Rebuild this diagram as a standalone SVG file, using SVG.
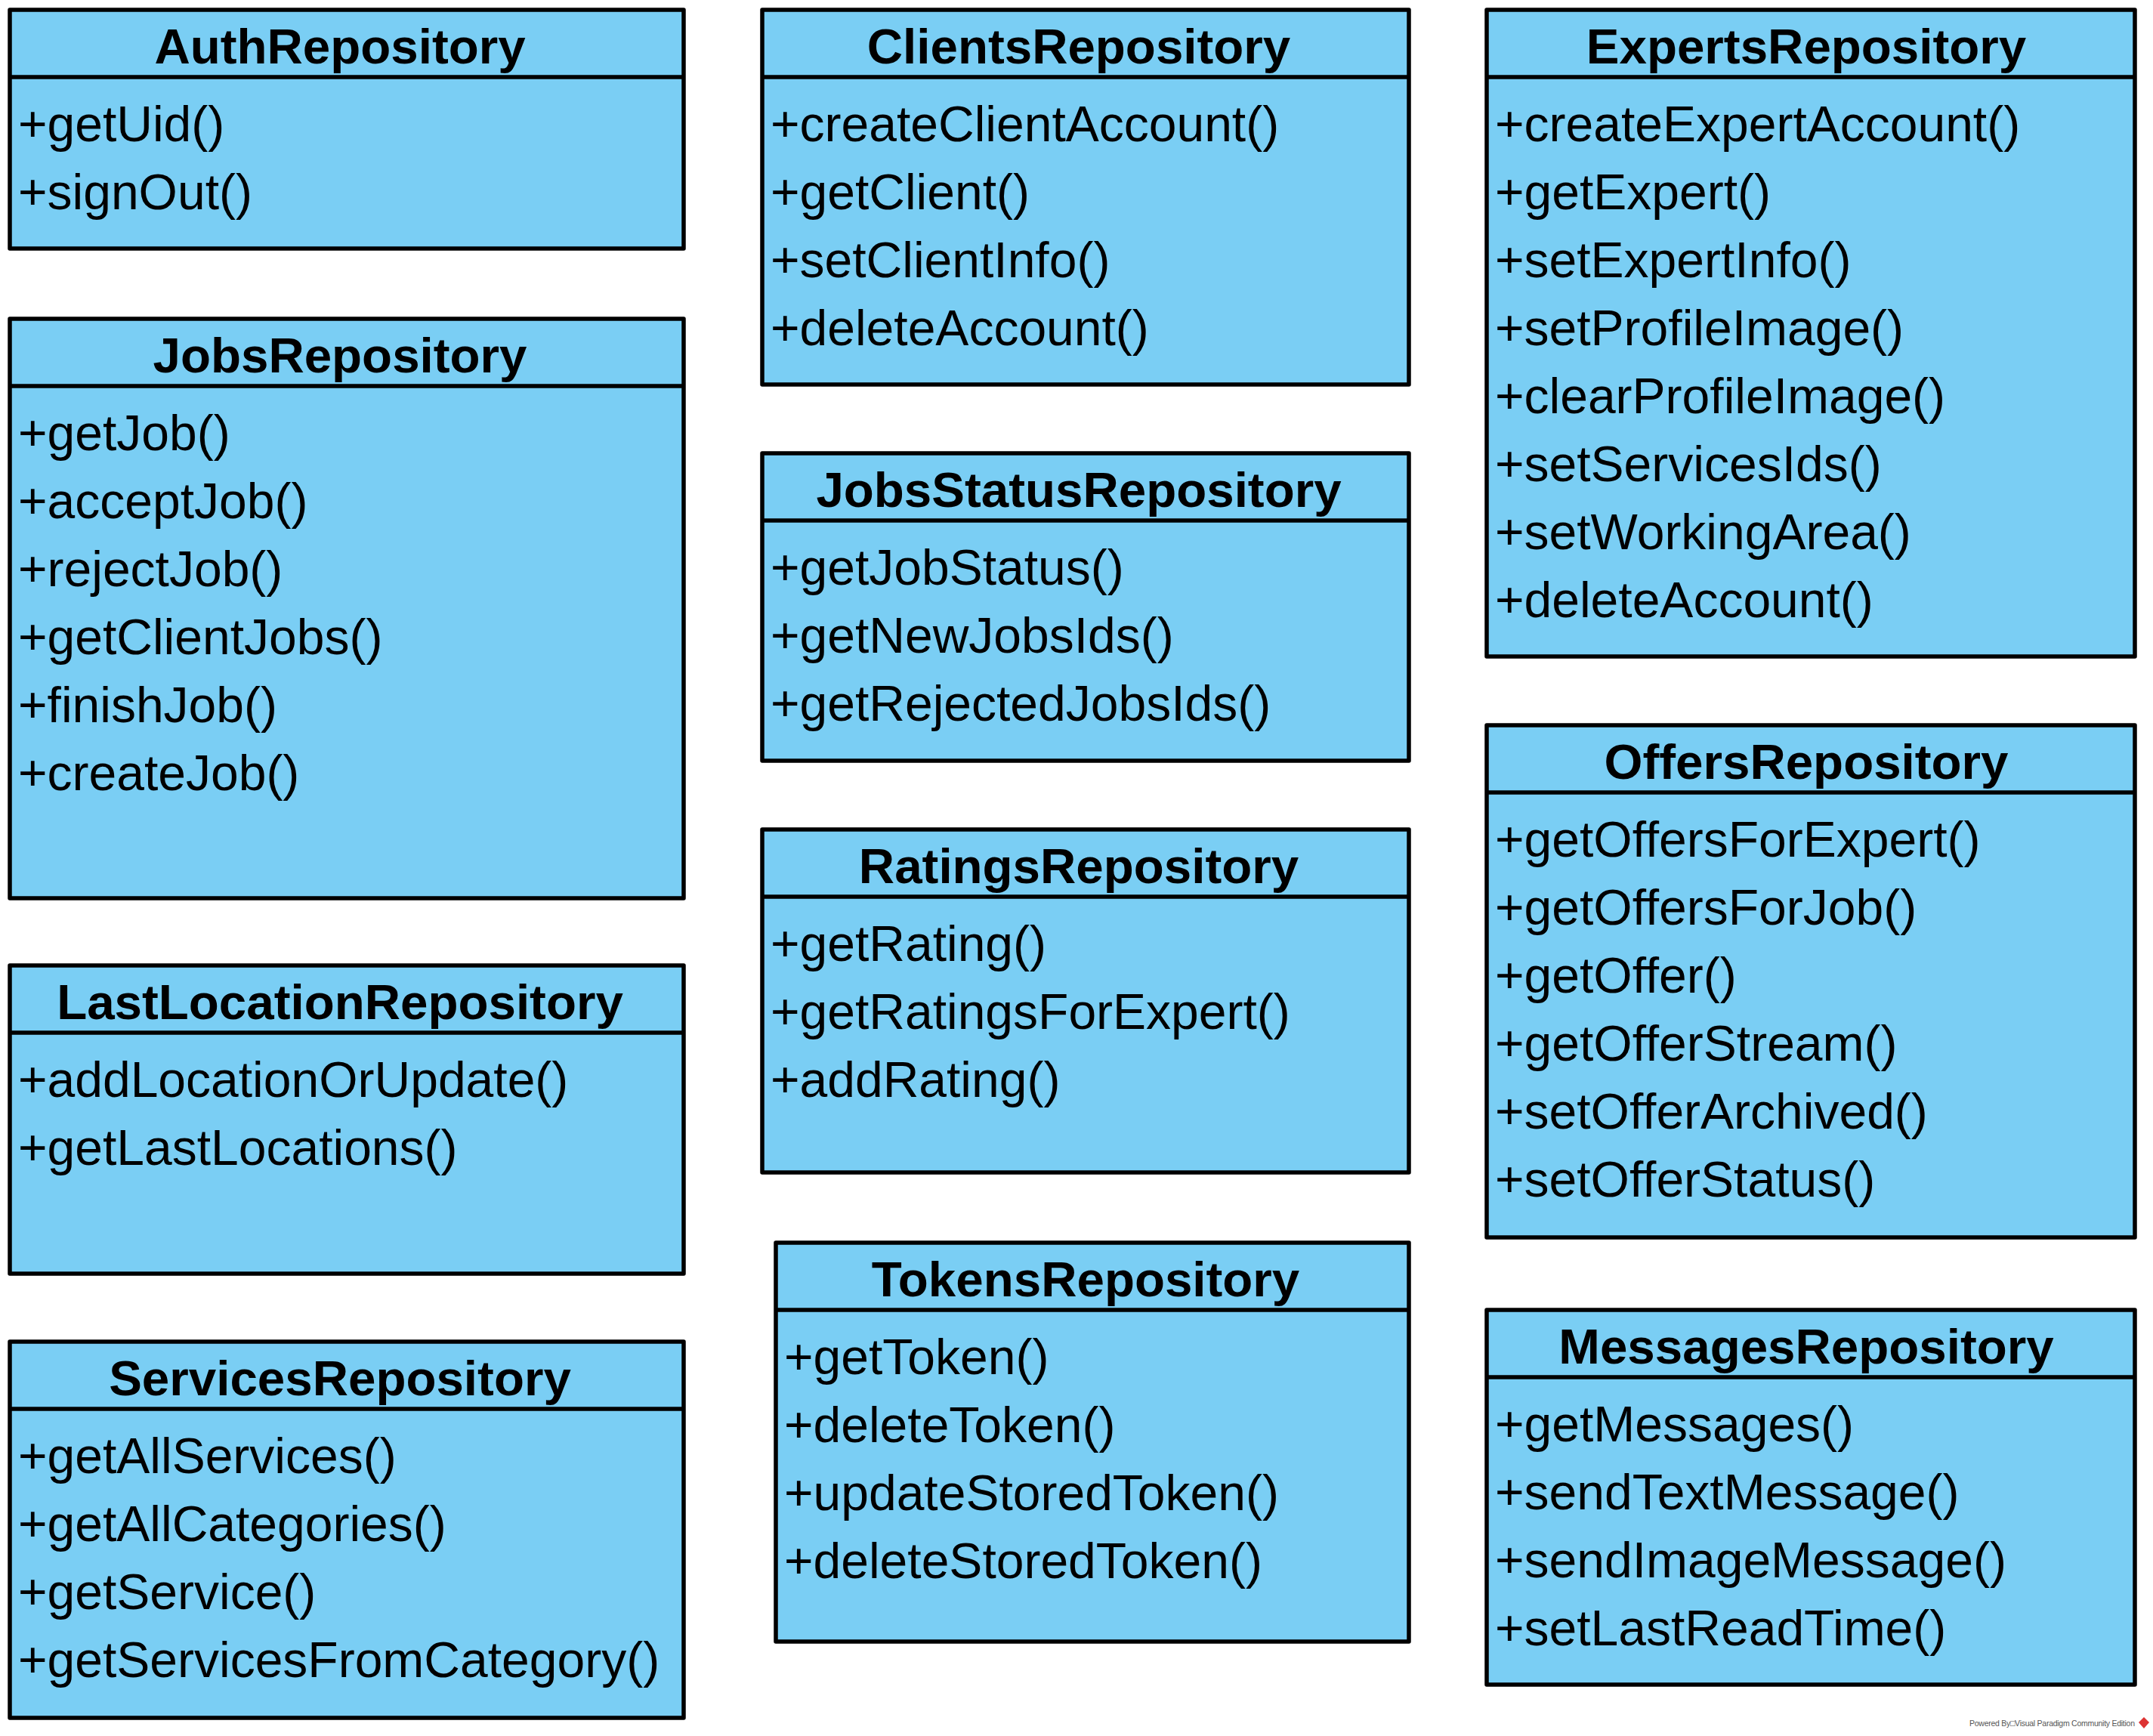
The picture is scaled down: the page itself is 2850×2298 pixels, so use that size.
<svg xmlns="http://www.w3.org/2000/svg" width="2850" height="2298" viewBox="0 0 2850 2298">
<style>
.box{fill:#7ACEF4;stroke:#000;stroke-width:5.5;stroke-linejoin:round}
.sep{stroke:#000;stroke-width:5.5}
.title{font-family:"Liberation Sans",Arial,sans-serif;font-weight:bold;font-size:65.5px;fill:#000;text-anchor:middle}
.mem{font-family:"Liberation Sans",Arial,sans-serif;font-size:66px;fill:#000}
.wm{font-family:"Liberation Sans",Arial,sans-serif;font-size:10.5px;fill:#555}
</style>
<rect width="2850" height="2298" fill="#fff"/>
<g id="connectors"/>

<g id="AuthRepository">
<rect class="box" x="13" y="13" width="892" height="316"/>
<line class="sep" x1="13" y1="102" x2="905" y2="102"/>
<text class="title" x="450" y="84">AuthRepository</text>
<text class="mem" x="24" y="187">+getUid()</text>
<text class="mem" x="24" y="277">+signOut()</text>
</g>

<g id="JobsRepository">
<rect class="box" x="13" y="422" width="892" height="767"/>
<line class="sep" x1="13" y1="511" x2="905" y2="511"/>
<text class="title" x="450" y="493">JobsRepository</text>
<text class="mem" x="24" y="596">+getJob()</text>
<text class="mem" x="24" y="686">+acceptJob()</text>
<text class="mem" x="24" y="776">+rejectJob()</text>
<text class="mem" x="24" y="866">+getClientJobs()</text>
<text class="mem" x="24" y="956">+finishJob()</text>
<text class="mem" x="24" y="1046">+createJob()</text>
</g>

<g id="LastLocationRepository">
<rect class="box" x="13" y="1278" width="892" height="408"/>
<line class="sep" x1="13" y1="1367" x2="905" y2="1367"/>
<text class="title" x="450" y="1349">LastLocationRepository</text>
<text class="mem" x="24" y="1452">+addLocationOrUpdate()</text>
<text class="mem" x="24" y="1542">+getLastLocations()</text>
</g>

<g id="ServicesRepository">
<rect class="box" x="13" y="1776" width="892" height="498"/>
<line class="sep" x1="13" y1="1865" x2="905" y2="1865"/>
<text class="title" x="450" y="1847">ServicesRepository</text>
<text class="mem" x="24" y="1950">+getAllServices()</text>
<text class="mem" x="24" y="2040">+getAllCategories()</text>
<text class="mem" x="24" y="2130">+getService()</text>
<text class="mem" x="24" y="2220">+getServicesFromCategory()</text>
</g>

<g id="ClientsRepository">
<rect class="box" x="1009" y="13" width="856" height="496"/>
<line class="sep" x1="1009" y1="102" x2="1865" y2="102"/>
<text class="title" x="1428" y="84">ClientsRepository</text>
<text class="mem" x="1020" y="187">+createClientAccount()</text>
<text class="mem" x="1020" y="277">+getClient()</text>
<text class="mem" x="1020" y="367">+setClientInfo()</text>
<text class="mem" x="1020" y="457">+deleteAccount()</text>
</g>

<g id="JobsStatusRepository">
<rect class="box" x="1009" y="600" width="856" height="407"/>
<line class="sep" x1="1009" y1="689" x2="1865" y2="689"/>
<text class="title" x="1428" y="671">JobsStatusRepository</text>
<text class="mem" x="1020" y="774">+getJobStatus()</text>
<text class="mem" x="1020" y="864">+getNewJobsIds()</text>
<text class="mem" x="1020" y="954">+getRejectedJobsIds()</text>
</g>

<g id="RatingsRepository">
<rect class="box" x="1009" y="1098" width="856" height="454"/>
<line class="sep" x1="1009" y1="1187" x2="1865" y2="1187"/>
<text class="title" x="1428" y="1169">RatingsRepository</text>
<text class="mem" x="1020" y="1272">+getRating()</text>
<text class="mem" x="1020" y="1362">+getRatingsForExpert()</text>
<text class="mem" x="1020" y="1452">+addRating()</text>
</g>

<g id="TokensRepository">
<rect class="box" x="1027" y="1645" width="838" height="528"/>
<line class="sep" x1="1027" y1="1734" x2="1865" y2="1734"/>
<text class="title" x="1437" y="1716">TokensRepository</text>
<text class="mem" x="1038" y="1819">+getToken()</text>
<text class="mem" x="1038" y="1909">+deleteToken()</text>
<text class="mem" x="1038" y="1999">+updateStoredToken()</text>
<text class="mem" x="1038" y="2089">+deleteStoredToken()</text>
</g>

<g id="ExpertsRepository">
<rect class="box" x="1968" y="13" width="858" height="856"/>
<line class="sep" x1="1968" y1="102" x2="2826" y2="102"/>
<text class="title" x="2391" y="84">ExpertsRepository</text>
<text class="mem" x="1979" y="187">+createExpertAccount()</text>
<text class="mem" x="1979" y="277">+getExpert()</text>
<text class="mem" x="1979" y="367">+setExpertInfo()</text>
<text class="mem" x="1979" y="457">+setProfileImage()</text>
<text class="mem" x="1979" y="547">+clearProfileImage()</text>
<text class="mem" x="1979" y="637">+setServicesIds()</text>
<text class="mem" x="1979" y="727">+setWorkingArea()</text>
<text class="mem" x="1979" y="817">+deleteAccount()</text>
</g>

<g id="OffersRepository">
<rect class="box" x="1968" y="960" width="858" height="678"/>
<line class="sep" x1="1968" y1="1049" x2="2826" y2="1049"/>
<text class="title" x="2391" y="1031">OffersRepository</text>
<text class="mem" x="1979" y="1134">+getOffersForExpert()</text>
<text class="mem" x="1979" y="1224">+getOffersForJob()</text>
<text class="mem" x="1979" y="1314">+getOffer()</text>
<text class="mem" x="1979" y="1404">+getOfferStream()</text>
<text class="mem" x="1979" y="1494">+setOfferArchived()</text>
<text class="mem" x="1979" y="1584">+setOfferStatus()</text>
</g>

<g id="MessagesRepository">
<rect class="box" x="1968" y="1734" width="858" height="496"/>
<line class="sep" x1="1968" y1="1823" x2="2826" y2="1823"/>
<text class="title" x="2391" y="1805">MessagesRepository</text>
<text class="mem" x="1979" y="1908">+getMessages()</text>
<text class="mem" x="1979" y="1998">+sendTextMessage()</text>
<text class="mem" x="1979" y="2088">+sendImageMessage()</text>
<text class="mem" x="1979" y="2178">+setLastReadTime()</text>
</g>

<g id="watermark">
<text class="wm" x="2607" y="2285" textLength="219" lengthAdjust="spacing">Powered By□Visual Paradigm Community Edition</text>
<path d="M2838,2273 L2845,2280 L2838,2288 L2831,2280 Z" fill="#d33"/>
</g>
</svg>
